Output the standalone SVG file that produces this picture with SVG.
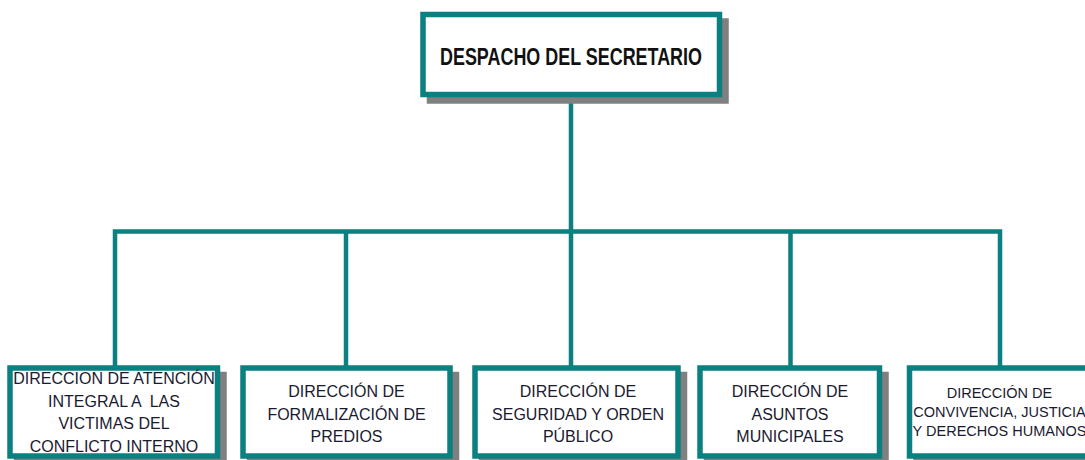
<svg xmlns="http://www.w3.org/2000/svg" width="1085" height="460" viewBox="0 0 1085 460">
  <style>
    .shadow { fill: #808080; stroke: #808080; stroke-width: 5.5; }
    .box { fill: #ffffff; stroke: #0a8080; stroke-width: 5.5; }
    .conn { fill: none; stroke: #0a8080; stroke-width: 4.5; stroke-linejoin: miter; }
    .lbl { font-family: "Liberation Sans", Arial, sans-serif; font-size: 16px; fill: #1a1a30; text-anchor: middle; }
    .lbl5 { font-family: "Liberation Sans", Arial, sans-serif; font-size: 14.5px; fill: #1a1a30; text-anchor: middle; }
    .title { font-family: "Liberation Sans", Arial, sans-serif; font-size: 23px; font-weight: bold; fill: #111111; text-anchor: middle; }
  </style>
  <rect width="1085" height="460" fill="#ffffff"/>
  <g id="connectors">
    <path class="conn" d="M571,94 V366"/>
    <path class="conn" d="M115,366 V231.5 H1000 V366"/>
    <path class="conn" d="M346,231.5 V366"/>
    <path class="conn" d="M790.5,231.5 V366"/>
  </g>
  <g id="despacho">
    <rect class="shadow" x="429.5" y="21" width="296.5" height="80"/>
    <rect class="box" x="423" y="14.5" width="296.5" height="80"/>
    <text class="title" x="571" y="64.5" textLength="262" lengthAdjust="spacingAndGlyphs">DESPACHO DEL SECRETARIO</text>
  </g>
  <g id="victimas">
    <rect class="shadow" x="16.5" y="374.5" width="207.5" height="88"/>
    <rect class="box" x="10" y="368" width="207.5" height="88"/>
    <text class="lbl" x="114" y="384">DIRECCION DE ATENCIÓN</text>
    <text class="lbl" x="114" y="406.5" xml:space="preserve">INTEGRAL A  LAS</text>
    <text class="lbl" x="114" y="429">VICTIMAS DEL</text>
    <text class="lbl" x="114" y="451.5">CONFLICTO INTERNO</text>
  </g>
  <g id="predios">
    <rect class="shadow" x="249.5" y="374.5" width="207" height="88"/>
    <rect class="box" x="243" y="368" width="207" height="88"/>
    <text class="lbl" x="346.5" y="397">DIRECCIÓN DE</text>
    <text class="lbl" x="346.5" y="419.5">FORMALIZACIÓN DE</text>
    <text class="lbl" x="346.5" y="442">PREDIOS</text>
  </g>
  <g id="seguridad">
    <rect class="shadow" x="481.5" y="374.5" width="203" height="88"/>
    <rect class="box" x="475" y="368" width="203" height="88"/>
    <text class="lbl" x="578" y="397">DIRECCIÓN DE</text>
    <text class="lbl" x="578" y="419.5">SEGURIDAD Y ORDEN</text>
    <text class="lbl" x="578" y="442">PÚBLICO</text>
  </g>
  <g id="municipales">
    <rect class="shadow" x="706.5" y="374.5" width="179.5" height="88"/>
    <rect class="box" x="700" y="368" width="179.5" height="88"/>
    <text class="lbl" x="790" y="397">DIRECCIÓN DE</text>
    <text class="lbl" x="790" y="419.5">ASUNTOS</text>
    <text class="lbl" x="790" y="442">MUNICIPALES</text>
  </g>
  <g id="convivencia">
    <rect class="shadow" x="916" y="374.5" width="180" height="88"/>
    <rect class="box" x="909.5" y="368" width="180" height="88"/>
    <text class="lbl5" x="999.5" y="398">DIRECCIÓN DE</text>
    <text class="lbl5" x="999.5" y="417">CONVIVENCIA, JUSTICIA</text>
    <text class="lbl5" x="999.5" y="436">Y DERECHOS HUMANOS</text>
  </g>
</svg>
